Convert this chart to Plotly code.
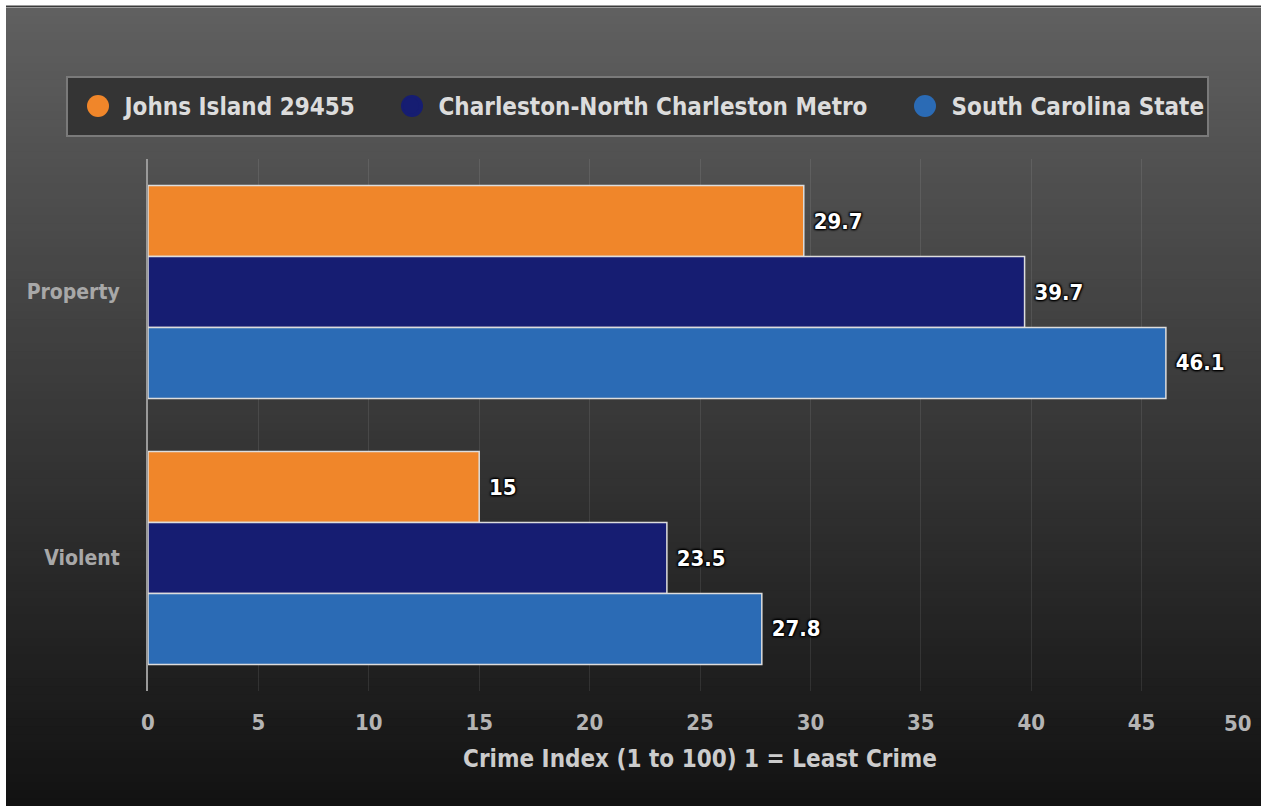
import plotly.graph_objects as go

categories = ["Property", "Violent"]
series_names = ["Johns Island 29455", "Charleston-North Charleston Metro", "South Carolina State"]
series_values = [
    [29.7, 15],
    [39.7, 23.5],
    [46.1, 27.8],
]
series_colors = ["#f0862a", "#161d72", "#2b6bb5"]
x_ticks = [0, 5, 10, 15, 20, 25, 30, 35, 40, 45, 50]
x_title = "Crime Index (1 to 100) 1 = Least Crime"

W, H = 1261, 806
L, R, T, B = 148, 9, 159, 115
pw, ph = W - L - R, H - T - B

def px_x(p):
    return (p - L) / pw

def px_y(p):
    return (H - B - p) / ph

FONT = "DejaVu Sans Condensed, DejaVu Sans, sans-serif"
tick_font = dict(family=FONT, size=22, color="#b4b4b4", weight="bold")

fig = go.Figure()
for name, vals, col in zip(series_names, series_values, series_colors):
    fig.add_trace(go.Bar(
        y=categories, x=vals, orientation="h", name=name,
        marker=dict(color=col, line=dict(color="#dddddd", width=1.5)),
        text=[f"{v:g}" for v in vals], texttemplate="\u00a0%{text}",
        textposition="outside", cliponaxis=False, constraintext="none",
        textfont=dict(family=FONT, size=22, color="white", weight="bold",
                      shadow="1px 1px 2px #000, -1px -1px 2px #000, 1px -1px 2px #000, -1px 1px 2px #000"),
        showlegend=False, hoverinfo="skip",
    ))

legend_circle_x = [98, 412, 925]
legend_names = ["legend", "legend2", "legend3"]
for name, col, lg in zip(series_names, series_colors, legend_names):
    fig.add_trace(go.Scatter(
        x=[None], y=[None], mode="markers", name="\u00a0" + name, legend=lg,
        marker=dict(color=col, size=16, symbol="circle"),
    ))

# background gradient
shapes = []
top_px, bot_px = 8, H
n = 100
c_top, c_bot = 96, 18
for i in range(n):
    y0p = top_px + (bot_px - top_px) * i / n
    y1p = top_px + (bot_px - top_px) * (i + 1) / n + 1.5
    c = round(c_top + (c_bot - c_top) * (i + 0.5) / n)
    shapes.append(dict(type="rect", xref="paper", yref="paper", layer="below",
                       x0=px_x(6), x1=px_x(W + 2), y0=px_y(y0p), y1=px_y(min(y1p, H + 2)),
                       fillcolor=f"rgb({c},{c},{c})", line=dict(width=0)))
shapes.append(dict(type="line", xref="paper", yref="paper", layer="below",
                   x0=px_x(6), x1=px_x(W + 2), y0=px_y(6.5), y1=px_y(6.5),
                   line=dict(color="#3a3a3a", width=2)))
# legend frame
shapes.append(dict(type="rect", xref="paper", yref="paper", layer="above",
                   x0=px_x(67), x1=px_x(1208), y0=px_y(77), y1=px_y(136),
                   fillcolor="#343434", line=dict(color="#7a7a7a", width=2)))
for cx, col in zip(legend_circle_x, series_colors):
    shapes.append(dict(type="circle", xref="paper", yref="paper", layer="above",
                       x0=px_x(cx - 11), x1=px_x(cx + 11), y0=px_y(106 - 11), y1=px_y(106 + 11),
                       fillcolor=col, line=dict(width=0)))

legend_font = dict(family=FONT, size=24, color="#dcdcdc", weight="bold")
legends = {}
for lg, cx in zip(legend_names, legend_circle_x):
    legends[lg] = dict(
        orientation="h", x=px_x(cx - 21), y=px_y(106), xanchor="left", yanchor="middle",
        bgcolor="rgba(0,0,0,0)", borderwidth=0, font=legend_font,
        itemsizing="trace",
    )

# last tick label is pulled inside the chart edge, as in the original
tick_text = [str(t) for t in x_ticks[:-1]] + [""]
annotations = [dict(x=x_ticks[-1], y=0, xref="x", yref="paper", yanchor="top",
                    text=str(x_ticks[-1]), showarrow=False, xshift=-14, yshift=-18,
                    font=tick_font)]

fig.update_layout(
    width=W, height=H,
    margin=dict(l=L, r=R, t=T, b=B, pad=0),
    paper_bgcolor="white", plot_bgcolor="rgba(0,0,0,0)",
    barmode="group", bargap=0.2, bargroupgap=0,
    shapes=shapes, annotations=annotations,
    **legends,
    xaxis=dict(
        range=[0, 50], tickvals=x_ticks, ticktext=tick_text, showgrid=True,
        gridcolor="rgba(255,255,255,0.09)", gridwidth=1, zeroline=False,
        showline=False, ticks="", ticklabelstandoff=16,
        tickfont=tick_font,
        title=dict(text=x_title, standoff=16,
                   font=dict(family=FONT, size=24, color="#cccccc", weight="bold")),
        fixedrange=True,
    ),
    yaxis=dict(
        categoryorder="array", categoryarray=categories, autorange="reversed",
        showline=True, linecolor="#9a9a9a", linewidth=2, showgrid=False,
        ticks="", ticklabelstandoff=22,
        tickfont=dict(family=FONT, size=21, color="#a8a8a8", weight="bold"),
        fixedrange=True,
    ),
)

fig.write_html("out.html", config={"displayModeBar": False},
               post_script="document.body.style.margin='0';document.body.style.overflow='hidden';")
